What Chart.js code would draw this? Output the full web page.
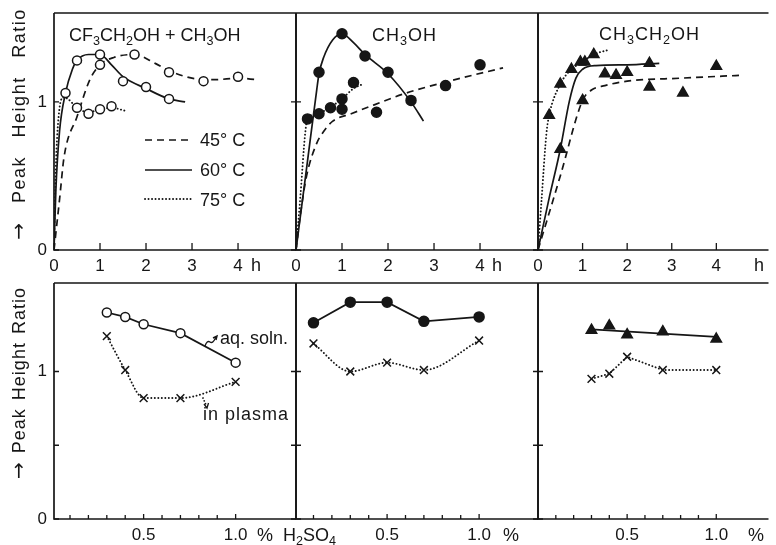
<!DOCTYPE html>
<html>
<head>
<meta charset="utf-8">
<script src="https://cdn.jsdelivr.net/npm/chart.js@4.4.0/dist/chart.umd.min.js"></script>
<style>
  body { margin: 0; background: #fff; }
  #wrap { position: relative; width: 776px; height: 545px; overflow: hidden;
          font-family: "Liberation Sans", Arial, sans-serif; color: #161616; }
  canvas { position: absolute; left: 0; top: 0; }
  svg { position: absolute; left: 0; top: 0; }
  .lbl { position: absolute; font-size: 18px; line-height: 1; white-space: nowrap; }
  .lbl sub { font-size: 70%; vertical-align: -0.3em; line-height: 0; }
  .ytitle { position: absolute; font-size: 18px; line-height: 1; white-space: nowrap;
            transform: translate(-50%, -50%) rotate(-90deg); }
  .arr { font-family: "DejaVu Sans", sans-serif; font-size: 20px; }
</style>
</head>
<body>
<div id="wrap">
  <canvas id="p1" width="776" height="545"></canvas>
  <canvas id="p2" width="776" height="545"></canvas>
  <canvas id="p3" width="776" height="545"></canvas>
  <canvas id="p4" width="776" height="545"></canvas>
  <canvas id="p5" width="776" height="545"></canvas>
  <canvas id="p6" width="776" height="545"></canvas>

  <svg width="776" height="545">
    <g stroke="#161616" stroke-width="1.7" fill="none">
      <line x1="145" y1="140" x2="192" y2="140" stroke-dasharray="7 5"/>
      <line x1="145" y1="170" x2="192" y2="170"/>
      <line x1="145" y1="199" x2="192" y2="199" stroke-dasharray="0.1 3.4" stroke-linecap="round" stroke-width="1.9"/>
      <path d="M205,346 q2,-6 5,-4 q3,2 6,-5" stroke-width="1.4"/>
      <path d="M213,338 l4,-2 l-1,4" stroke-width="1.4"/>
      <line x1="203" y1="398" x2="206.5" y2="406" stroke-dasharray="0.1 3" stroke-linecap="round" stroke-width="1.7"/>
      <path d="M204,404 l3,4 l1.5,-5" stroke-width="1.3"/>
    </g>
  </svg>

  <div class="ytitle" style="left:18px; top:124px; letter-spacing:1.5px; word-spacing:12px;"><span class="arr">&rarr;</span> Peak Height Ratio</div>
  <div class="ytitle" style="left:18px; top:383px; letter-spacing:1px; word-spacing:2px;"><span class="arr">&rarr;</span> Peak Height Ratio</div>

  <div class="lbl" style="left:69px; top:26px;">CF<sub>3</sub>CH<sub>2</sub>OH + CH<sub>3</sub>OH</div>
  <div class="lbl" style="left:372px; top:26px; letter-spacing:1px;">CH<sub>3</sub>OH</div>
  <div class="lbl" style="left:599px; top:25px; letter-spacing:1px;">CH<sub>3</sub>CH<sub>2</sub>OH</div>

  <div class="lbl" style="left:200px; top:131px;">45° C</div>
  <div class="lbl" style="left:200px; top:161px;">60° C</div>
  <div class="lbl" style="left:200px; top:191px;">75° C</div>

  <div class="lbl" style="left:220px; top:329px;">aq. soln.</div>
  <div class="lbl" style="left:203px; top:405px; letter-spacing:1px;">in plasma</div>

  <div class="lbl" style="left:251px; top:256px;">h</div>
  <div class="lbl" style="left:492px; top:256px;">h</div>
  <div class="lbl" style="left:754px; top:256px;">h</div>

  <div class="lbl" style="left:257px; top:526px;">%</div>
  <div class="lbl" style="left:283px; top:526px;">H<sub>2</sub>SO<sub>4</sub></div>
  <div class="lbl" style="left:503px; top:526px;">%</div>
  <div class="lbl" style="left:748px; top:526px;">%</div>
</div>

<script>
// ---- axes ----
const hourTicks = [0, 1, 2, 3, 4];
const acidTicks = [0.1, 0.2, 0.3, 0.4, 0.5, 0.6, 0.7, 0.8, 0.9, 1.0];
const acidLabels = ["", "", "", "", "0.5", "", "", "", "", "1.0"];
const ratioTicksTop = [0, 1];
const ratioTicksBottom = [0, 0.5, 1];

// ---- top row: ratio vs time (h) ----
// CF3CH2OH + CH3OH, open circles
const mix45Pts = [[1, 1.25], [1.75, 1.32], [2.5, 1.2], [3.25, 1.14], [4, 1.17]];
const mix60Pts = [[0.25, 1.06], [0.5, 1.28], [1, 1.32], [1.5, 1.14], [2, 1.1], [2.5, 1.02]];
const mix75Pts = [[0.5, 0.96], [0.75, 0.92], [1, 0.95], [1.25, 0.97]];
const mix45Line = [[0, 0], [0.12, 0.34], [0.22, 0.63], [0.5, 0.9], [0.78, 1.15], [1, 1.25], [1.3, 1.3],
  [1.75, 1.32], [2.2, 1.26], [2.5, 1.21], [3, 1.16], [3.5, 1.15], [4, 1.16], [4.4, 1.15]];
const mix60Line = [[0, 0], [0.04, 0.4], [0.12, 0.8], [0.25, 1.06], [0.4, 1.22], [0.5, 1.28], [0.75, 1.32],
  [1, 1.32], [1.25, 1.25], [1.5, 1.17], [2, 1.09], [2.5, 1.02], [2.85, 1.0]];
const mix75Line = [[0, 0], [0.04, 0.55], [0.1, 0.9], [0.2, 1.03], [0.3, 1.02], [0.5, 0.96], [0.75, 0.93],
  [1, 0.95], [1.25, 0.96], [1.55, 0.94]];

// CH3OH, filled circles
const me45Pts = [[1, 0.95], [1.75, 0.93], [3.25, 1.11], [4, 1.25]];
const me60Pts = [[0.5, 1.2], [1, 1.46], [1.5, 1.31], [2, 1.2], [2.5, 1.01]];
const me75Pts = [[0.25, 0.885], [0.5, 0.92], [0.75, 0.96], [1, 1.02], [1.25, 1.13]];
const me45Line = [[0, 0], [0.1, 0.25], [0.23, 0.5], [0.45, 0.72], [0.6, 0.8], [0.8, 0.87], [1.2, 0.92],
  [1.7, 0.98], [2.4, 1.06], [3.2, 1.13], [4.5, 1.23]];
const me60Line = [[0, 0], [0.25, 0.6], [0.45, 1.08], [0.5, 1.19], [0.6, 1.3], [0.8, 1.42], [1, 1.46],
  [1.25, 1.4], [1.5, 1.32], [2, 1.19], [2.5, 1.0], [2.77, 0.87]];
const me75Line = [[0, 0], [0.09, 0.34], [0.2, 0.79], [0.25, 0.885], [0.5, 0.925], [0.75, 0.965],
  [1, 1.02], [1.25, 1.09], [1.45, 1.12]];

// CH3CH2OH, filled triangles
const et45Pts = [[1, 1.01], [1.5, 1.19], [1.75, 1.18], [2, 1.2], [2.5, 1.1], [3.25, 1.06], [4, 1.24]];
const et60Pts = [[0.5, 0.68], [1.05, 1.27], [2.5, 1.26]];
const et75Pts = [[0.25, 0.91], [0.5, 1.12], [0.75, 1.22], [0.95, 1.27], [1.25, 1.32]];
const et45Line = [[0, 0], [0.5, 0.5], [1, 1.01], [1.2, 1.08], [1.5, 1.11], [2, 1.14], [3.2, 1.16], [4.6, 1.18]];
const et60Line = [[0, 0], [0.25, 0.35], [0.5, 0.68], [0.7, 1.0], [0.85, 1.16], [1, 1.22], [1.3, 1.245],
  [2, 1.25], [2.72, 1.26]];
const et75Line = [[0, 0], [0.08, 0.34], [0.19, 0.79], [0.25, 0.91], [0.5, 1.12], [0.75, 1.22], [1, 1.27],
  [1.25, 1.32], [1.57, 1.35]];

// ---- bottom row: ratio vs % H2SO4 ----
const acidMix = [0.3, 0.4, 0.5, 0.7, 1.0];
const mixAq = [1.4, 1.37, 1.32, 1.26, 1.06];
const mixPlasma = [1.24, 1.01, 0.82, 0.82, 0.93];
const acidMe = [0.1, 0.3, 0.5, 0.7, 1.0];
const meAq = [1.33, 1.47, 1.47, 1.34, 1.37];
const mePlasma = [1.19, 1.0, 1.06, 1.01, 1.21];
const acidEt = [0.3, 0.4, 0.5, 0.7, 1.0];
const etAq = [1.28, 1.31, 1.25, 1.27, 1.22];
const etAqFit = [[0.3, 1.285], [1.0, 1.235]];
const etPlasma = [0.95, 0.985, 1.1, 1.01, 1.01];

const INK = "#161616";
const DASH = [7, 5];
const DOT = [0.1, 3.4];
const LABEL_H = 26; // room under each plot for tick labels
const xy = (a) => a.map(([x, y]) => ({ x, y }));
const zip = (xs, ys) => xs.map((x, i) => ({ x, y: ys[i] }));

function line(data, dash, smooth) {
  return {
    data, showLine: true, pointRadius: 0, borderColor: INK,
    borderWidth: dash === DOT ? 1.9 : 1.7, borderDash: dash, borderCapStyle: dash === DOT ? "round" : "butt",
    cubicInterpolationMode: smooth ? "monotone" : "default", tension: 0, order: 2,
  };
}

function marks(data, kind) {
  const m = {
    open: { pointStyle: "circle", pointRadius: 4.5, pointBackgroundColor: "#fff" },
    dot: { pointStyle: "circle", pointRadius: 5, pointBackgroundColor: INK },
    tri: { pointStyle: "triangle", pointRadius: 6, pointBackgroundColor: INK },
    cross: { pointStyle: "crossRot", pointRadius: 5.5, pointBackgroundColor: INK },
  }[kind];
  return Object.assign({ data, showLine: false, pointBorderColor: INK, pointBorderWidth: 1.5, order: 1 }, m);
}

// frame + inward ticks
const framePlugin = {
  id: "frame",
  afterDraw(chart) {
    const { ctx, chartArea: a, scales } = chart;
    const o = chart.options.plugins.frame;
    ctx.save();
    ctx.strokeStyle = INK;
    ctx.lineWidth = 1.7;
    ctx.beginPath();
    ctx.moveTo(a.left, a.top);
    ctx.lineTo(a.left, a.bottom);
    ctx.lineTo(a.right, a.bottom);
    ctx.moveTo(a.left, a.top);
    ctx.lineTo(a.right, a.top);
    if (o.rightEdge) {
      ctx.moveTo(a.right, a.top);
      ctx.lineTo(a.right, a.bottom);
    }
    ctx.stroke();

    ctx.lineWidth = 1.3;
    ctx.beginPath();
    scales.x.ticks.forEach((t) => {
      const px = scales.x.getPixelForValue(t.value);
      const len = o.xMajor.includes(t.value) ? o.xLen + 1 : o.xLen;
      ctx.moveTo(px, a.bottom);
      ctx.lineTo(px, a.bottom - len);
    });
    scales.y.ticks.forEach((t) => {
      const py = scales.y.getPixelForValue(t.value);
      ctx.moveTo(a.left, py);
      ctx.lineTo(a.left + 5, py);
      if (o.rightEdge) {
        ctx.moveTo(a.right, py);
        ctx.lineTo(a.right - 5, py);
      }
    });
    ctx.stroke();
    ctx.restore();
  },
};

const tickFont = { family: "'Liberation Sans', Arial, sans-serif", size: 17 };

function makePanel(id, p) {
  const yW = p.showY ? p.left : 0;
  return new Chart(document.getElementById(id), {
    type: "scatter",
    data: { datasets: p.datasets },
    options: {
      responsive: false,
      animation: false,
      events: [],
      layout: { padding: { left: p.left - yW, right: 776 - p.right, top: p.top, bottom: 545 - p.bottom - LABEL_H } },
      plugins: {
        legend: { display: false },
        tooltip: { enabled: false },
        frame: { rightEdge: p.rightEdge, xLen: p.xLen, xMajor: p.xMajor },
      },
      scales: {
        x: {
          type: "linear", min: p.xMin, max: p.xMax,
          grid: { display: false, drawTicks: false }, border: { display: false },
          afterBuildTicks: (s) => { s.ticks = p.xTicks.map((v) => ({ value: v })); },
          afterFit: (s) => { s.height = LABEL_H; s.paddingLeft = 0; s.paddingRight = 0; },
          ticks: { font: tickFont, color: INK, padding: 6, maxRotation: 0, autoSkip: false,
                   callback: (v, i) => p.xLabels[i] },
        },
        y: {
          type: "linear", min: 0, max: 1.6,
          grid: { display: false, drawTicks: false }, border: { display: false },
          afterBuildTicks: (s) => { s.ticks = p.yTicks.map((v) => ({ value: v })); },
          afterFit: (s) => { s.width = yW; s.paddingTop = 0; s.paddingBottom = 0; },
          ticks: { display: p.showY, font: tickFont, color: INK, padding: 7,
                   callback: (v) => (v === 0.5 ? "" : String(v)) },
        },
      },
    },
    plugins: [framePlugin],
  });
}

const hourLabels = hourTicks.map(String);
const topRow = { top: 13, bottom: 250, yTicks: ratioTicksTop, xTicks: hourTicks, xLabels: hourLabels, xLen: 7, xMajor: [] };
const botRow = { top: 283, bottom: 519, yTicks: ratioTicksBottom, xTicks: acidTicks, xLabels: acidLabels, xLen: 4, xMajor: [0.5, 1.0] };

makePanel("p1", Object.assign({}, topRow, {
  left: 54, right: 296, xMin: 0, xMax: 5.26, showY: true, rightEdge: true,
  datasets: [
    marks(xy(mix45Pts), "open"), marks(xy(mix60Pts), "open"), marks(xy(mix75Pts), "open"),
    line(xy(mix45Line), DASH, true), line(xy(mix60Line), [], true), line(xy(mix75Line), DOT, true),
  ],
}));

makePanel("p2", Object.assign({}, topRow, {
  left: 296, right: 538, xMin: 0, xMax: 5.26, showY: false, rightEdge: true,
  datasets: [
    marks(xy(me45Pts), "dot"), marks(xy(me60Pts), "dot"), marks(xy(me75Pts), "dot"),
    line(xy(me45Line), DASH, true), line(xy(me60Line), [], true), line(xy(me75Line), DOT, true),
  ],
}));

makePanel("p3", Object.assign({}, topRow, {
  left: 538, right: 776, xMin: 0, xMax: 5.17, showY: false, rightEdge: false,
  datasets: [
    marks(xy(et45Pts), "tri"), marks(xy(et60Pts), "tri"), marks(xy(et75Pts), "tri"),
    line(xy(et45Line), DASH, true), line(xy(et60Line), [], true), line(xy(et75Line), DOT, true),
  ],
}));

makePanel("p4", Object.assign({}, botRow, {
  left: 54, right: 296, xMin: 0.013, xMax: 1.328, showY: true, rightEdge: true,
  datasets: [
    marks(zip(acidMix, mixAq), "open"), marks(zip(acidMix, mixPlasma), "cross"),
    line(zip(acidMix, mixAq), [], false), line(zip(acidMix, mixPlasma), DOT, true),
  ],
}));

makePanel("p5", Object.assign({}, botRow, {
  left: 296, right: 538, xMin: 0.005, xMax: 1.32, showY: false, rightEdge: true,
  datasets: [
    marks(zip(acidMe, meAq), "dot"), marks(zip(acidMe, mePlasma), "cross"),
    line(zip(acidMe, meAq), [], false), line(zip(acidMe, mePlasma), DOT, true),
  ],
}));

makePanel("p6", Object.assign({}, botRow, {
  left: 538, right: 776, xMin: 0, xMax: 1.293, showY: false, rightEdge: false,
  datasets: [
    marks(zip(acidEt, etAq), "tri"), marks(zip(acidEt, etPlasma), "cross"),
    line(xy(etAqFit), [], false), line(zip(acidEt, etPlasma), DOT, false),
  ],
}));
</script>
</body>
</html>
